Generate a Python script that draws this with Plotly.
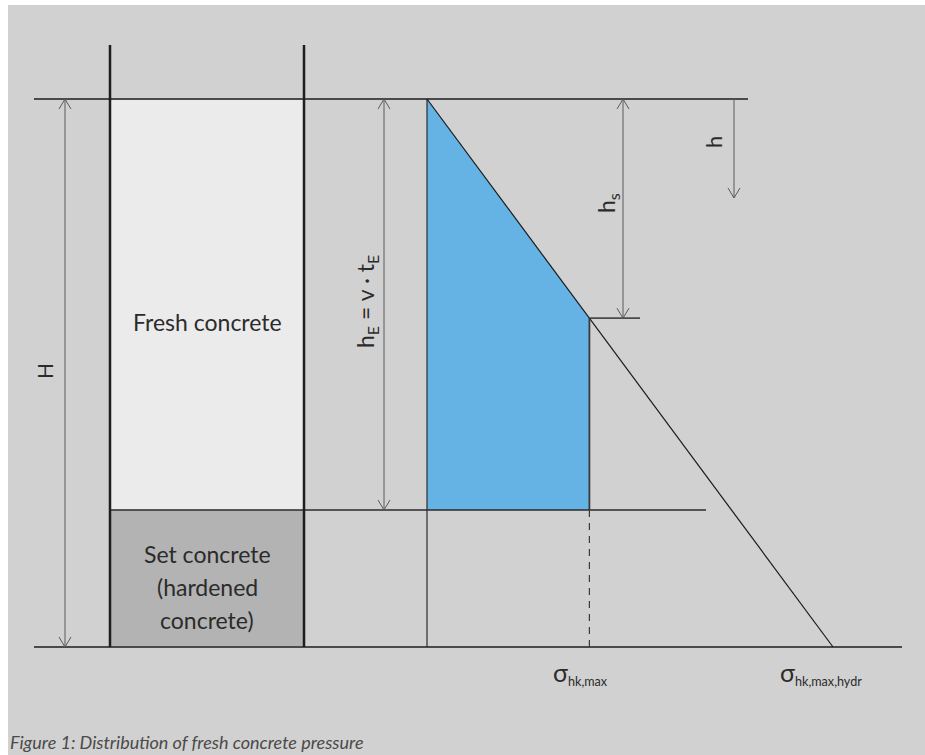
import plotly.graph_objects as go

# ---- diagram values (pressure in kN/m², depth in m) ----
H_total = 4.0          # total height of the pour
h_E = 3.0              # depth of fresh concrete, h_E = v * t_E
h_s = 1.6              # depth at which max pressure is reached
sigma_hk_max = 40.0
sigma_hk_max_hydr = 100.0

fresh_depth = [0.0, 1.6, 3.0, 3.0]
fresh_pressure = [0.0, 40.0, 40.0, 0.0]
hydr_depth = [0.0, 4.0]
hydr_pressure = [0.0, 100.0]

box_labels_fresh = ["Fresh concrete"]
box_labels_set = ["Set concrete", "(hardened", "concrete)"]
caption = "Figure 1: Distribution of fresh concrete pressure"

# ---- page layout (pixel placement of the drawing) ----
W, HGT = 925, 755
PX_ORIGIN, PX_PER_KN = 427, 4.06   # pressure origin / scale
PY_TOP, PY_PER_M = 99, 137         # top of concrete / depth scale


def ux(px):
    return (px - PX_ORIGIN) / PX_PER_KN


def uy(py):
    return (py - PY_TOP) / PY_PER_M


FONT = "Lato"
TXT = "#2b2b2b"
DIM = "#5a5a5a"

fig = go.Figure()


def seg(x, y, color="#444", width=1.0, dash=None):
    fig.add_trace(go.Scatter(x=x, y=y, mode="lines",
                             line=dict(color=color, width=width, dash=dash),
                             hoverinfo="skip", showlegend=False))


def head(x, d, down):
    # open V arrowhead, apex at (x, d)
    s = 1 if down else -1
    dx, dy = ux(PX_ORIGIN + 6), 10 / PY_PER_M
    seg([x - dx, x, x + dx], [d - s * dy, d, d - s * dy], DIM, 1)


def dim_arrow(px, d0, d1, both=True):
    x = ux(px)
    seg([x, x], [d0, d1], DIM, 1)
    head(x, d1, True)
    if both:
        head(x, d0, False)


# background panels
shapes = [
    dict(type="rect", x0=ux(8), x1=ux(W), y0=uy(5), y1=uy(HGT),
         fillcolor="#d1d1d1", line_width=0, layer="below"),
    dict(type="rect", x0=ux(110), x1=ux(304), y0=0, y1=h_E,
         fillcolor="#ebebeb", line_width=0, layer="below"),
    dict(type="rect", x0=ux(110), x1=ux(304), y0=h_E, y1=H_total,
         fillcolor="#b3b3b3", line_width=0, layer="below"),
]

# pressure of fresh concrete (blue area)
fig.add_trace(go.Scatter(x=fresh_pressure, y=fresh_depth, mode="lines",
                         fill="toself", fillcolor="#64b3e4",
                         line=dict(width=0), hoverinfo="skip", showlegend=False))

# level lines
seg([ux(34), ux(748)], [0, 0], "#4a4a4a", 1.8)
seg([ux(34), ux(902)], [H_total, H_total], "#4a4a4a", 1.8)
seg([ux(110), ux(706)], [h_E, h_E], "#2a2a2a", 1.6)
seg([sigma_hk_max, ux(640)], [h_s, h_s], "#4a4a4a", 1.8)

# formwork walls
for px in (110, 304):
    seg([ux(px), ux(px)], [uy(45), H_total], "#1e1e1e", 2.5)

# pressure diagram edges
seg([0, 0], [0, H_total], "#2a2a2a", 1.2)
seg(hydr_pressure, hydr_depth, "#1a1a1a", 1.2)
seg([sigma_hk_max, sigma_hk_max], [h_s, h_E], "#3a3a3a", 1.8)
seg([sigma_hk_max, sigma_hk_max], [h_E, H_total], "#3a3a3a", 1.2, "7px,6px")

# dimension arrows
dim_arrow(65, 0, H_total)
dim_arrow(384, 0, h_E)
dim_arrow(623, 0, h_s)
dim_arrow(734, 0, uy(198), both=False)

ann = []


def label(text, px, py, size, angle=0, **kw):
    ann.append(dict(text=text, x=ux(px), y=uy(py), xref="x", yref="y",
                    showarrow=False, textangle=angle,
                    font=dict(family=FONT, size=size, color=TXT), **kw))


label(box_labels_fresh[0], 207, 322, 23)
for i, t in enumerate(box_labels_set):
    label(t, 207, 554 + 33 * i, 23)

label("H", 44, 371, 21, -90)
label("h<sub>E</sub> = v · t<sub>E</sub>", 366, 302, 23, -90)
label("h<sub>s</sub>", 607, 203, 23, -90)
label("h", 713, 142, 22, -90)

SIG = "<span style='font-size:25px'>σ</span>"
label(SIG + "<sub>hk,max</sub>", 580, 673, 18)
label(SIG + "<sub>hk,max,hydr</sub>", 821, 673, 18)

ann.append(dict(text="<i>" + caption + "</i>", x=ux(8), y=uy(742),
                xref="x", yref="y", xanchor="left", showarrow=False,
                font=dict(family=FONT, size=18, color="#4a4a4a")))

fig.update_layout(
    width=W, height=HGT, autosize=False,
    margin=dict(l=0, r=0, t=0, b=0),
    paper_bgcolor="white", plot_bgcolor="white",
    xaxis=dict(range=[ux(0), ux(W)], visible=False, fixedrange=True),
    yaxis=dict(range=[uy(HGT), uy(0)], visible=False, fixedrange=True),
    shapes=shapes, annotations=ann, showlegend=False,
)

fig.write_html("out.html", config={"displayModeBar": False},
               post_script="document.body.style.margin='0';")
